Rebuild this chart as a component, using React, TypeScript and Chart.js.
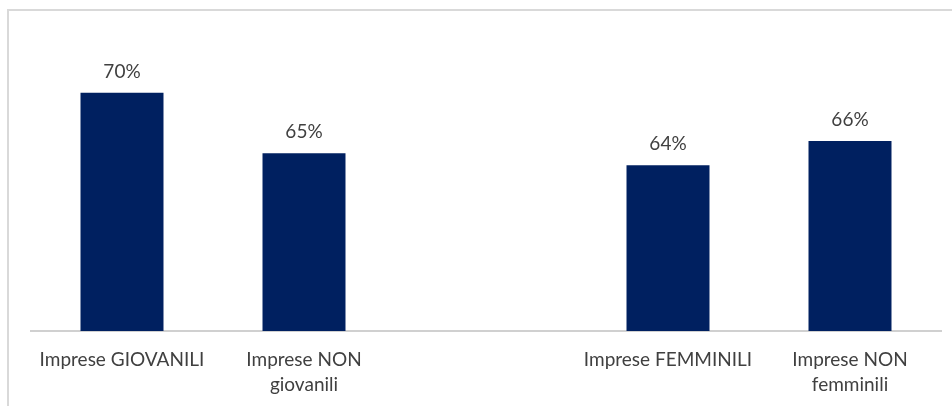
import React, { useEffect, useRef } from "react";
import { Chart, registerables } from "chart.js";

Chart.register(...registerables);

// Category labels (empty slot separates the two groups)
const categories: (string | string[])[] = [
  "Imprese GIOVANILI",
  ["Imprese NON", "giovanili"],
  "",
  "Imprese FEMMINILI",
  ["Imprese NON", "femminili"],
];

// Share values in percent (null = gap between groups)
const values: (number | null)[] = [70, 65, null, 64, 66];

const yMin = 50.3;
const yMax = 75.1;

const BAR_COLOR = "#002060";
const TEXT_COLOR = "#404040";
const FONT_FAMILY = "Lato, 'Noto Sans', sans-serif";

const framePlugin = {
  id: "frame",
  beforeDraw(chart: any) {
    const { ctx, width, height } = chart;
    ctx.save();
    ctx.fillStyle = "#ffffff";
    ctx.fillRect(0, 0, width, height);
    ctx.strokeStyle = "#d9d9d9";
    ctx.lineWidth = 2;
    ctx.beginPath();
    ctx.moveTo(8, height);
    ctx.lineTo(8, 10);
    ctx.lineTo(width, 10);
    ctx.stroke();
    ctx.restore();
  },
};

const valueLabelPlugin = {
  id: "valueLabels",
  afterDatasetsDraw(chart: any) {
    const { ctx } = chart;
    const meta = chart.getDatasetMeta(0);
    ctx.save();
    ctx.fillStyle = TEXT_COLOR;
    ctx.font = `19px ${FONT_FAMILY}`;
    ctx.textAlign = "center";
    ctx.textBaseline = "middle";
    meta.data.forEach((bar: any, i: number) => {
      const v = values[i];
      if (v == null) return;
      ctx.fillText(`${v}%`, bar.x, bar.y - 21);
    });
    ctx.restore();
  },
};

export default function App() {
  const canvasRef = useRef<HTMLCanvasElement | null>(null);

  useEffect(() => {
    if (!canvasRef.current) return;
    const chart = new Chart(canvasRef.current, {
      type: "bar",
      data: {
        labels: categories,
        datasets: [
          {
            data: values,
            backgroundColor: BAR_COLOR,
            barPercentage: 0.456,
            categoryPercentage: 1,
          },
        ],
      },
      options: {
        animation: false,
        responsive: false,
        maintainAspectRatio: false,
        layout: { padding: { left: 31, right: 11, top: 31, bottom: 0 } },
        plugins: {
          legend: { display: false },
          tooltip: { enabled: false },
        },
        scales: {
          x: {
            grid: { display: false, drawTicks: false },
            border: { display: true, color: "#d0d0d0", width: 2 },
            ticks: {
              color: TEXT_COLOR,
              font: { family: FONT_FAMILY, size: 19, lineHeight: 1.32 },
              padding: 16.5,
              maxRotation: 0,
              autoSkip: false,
            },
            afterFit(scale: any) {
              scale.height = 75;
            },
          },
          y: {
            display: false,
            min: yMin,
            max: yMax,
          },
        },
      },
      plugins: [framePlugin, valueLabelPlugin],
    });
    return () => chart.destroy();
  }, []);

  return (
    <div style={{ position: "fixed", left: 0, top: 0, width: 952, height: 406, background: "#fff" }}>
      <canvas ref={canvasRef} width={952} height={406} style={{ display: "block" }} />
    </div>
  );
}
